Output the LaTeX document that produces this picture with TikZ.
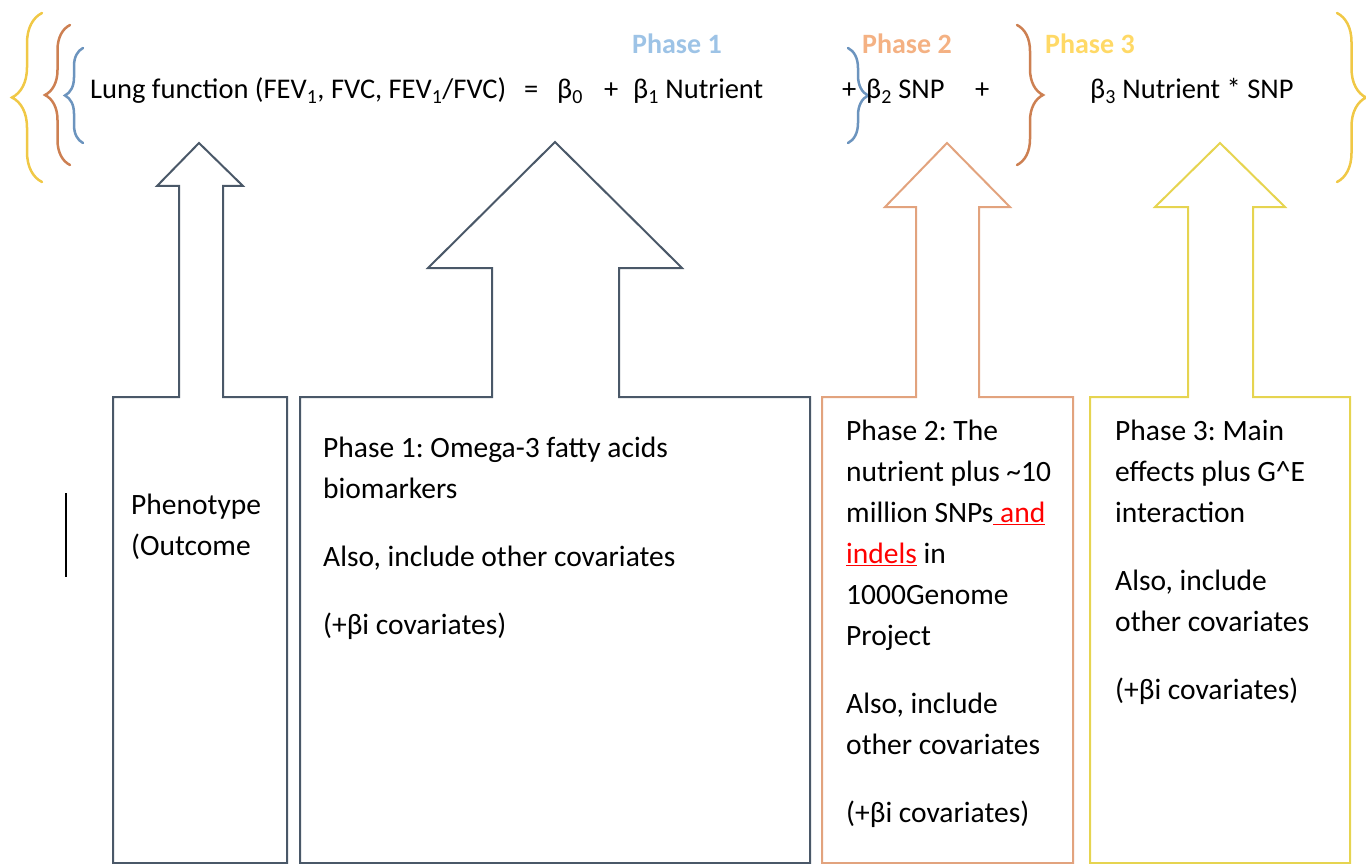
\documentclass[tikz,border=0pt]{standalone}
\usepackage{fontspec}
\setmainfont{Carlito}
\frenchspacing
\usepackage{xcolor}
\definecolor{slateArr}{RGB}{74,88,104}
\definecolor{orangeArr}{RGB}{226,163,126}
\definecolor{yellowArr}{RGB}{230,212,80}
\definecolor{blueBr}{RGB}{108,148,190}
\definecolor{orangeBr}{RGB}{205,128,82}
\definecolor{yellowBr}{RGB}{240,200,70}
\definecolor{phaseA}{RGB}{157,195,230}
\definecolor{phaseB}{RGB}{244,177,131}
\definecolor{phaseC}{RGB}{255,217,102}
\usepackage{tikz}
\usetikzlibrary{decorations.pathreplacing}

\begin{document}
\begin{tikzpicture}[x=1pt, y=-1pt,
  txt/.style={anchor=north west, inner sep=0pt, align=left,
              font=\fontsize{29.5}{41}\selectfont},
  eq/.style={anchor=base west, inner sep=0pt, font=\fontsize{28.5}{34}\selectfont},
  lab/.style={eq, font=\fontsize{28}{34}\selectfont\bfseries},
  blk/.style={line width=2pt, line join=miter},
  brc/.style={decorate, line width=2.5pt, line cap=round}
]
\useasboundingbox (0,0) rectangle (1366,864);

%% block arrows
\draw[blk, slateArr] (113,863) -- (113,397) -- (179,397) -- (179,186) -- (157,186) -- (199,143)
  -- (243,186) -- (223,186) -- (223,397) -- (287,397) -- (287,863) -- cycle;
\draw[blk, slateArr] (300,863) -- (300,397) -- (492,397) -- (492,268) -- (428,268) -- (555,142)
  -- (682,268) -- (619,268) -- (619,397) -- (810,397) -- (810,863) -- cycle;
\draw[blk, orangeArr] (822,863) -- (822,397) -- (916,397) -- (916,207) -- (885,207) -- (947,143)
  -- (1010,207) -- (979,207) -- (979,397) -- (1073,397) -- (1073,863) -- cycle;
\draw[blk, yellowArr] (1090,863) -- (1090,397) -- (1188,397) -- (1188,207) -- (1155,207) -- (1220,143)
  -- (1285,207) -- (1253,207) -- (1253,397) -- (1350,397) -- (1350,863) -- cycle;

%% braces
\draw[brc, yellowBr, decoration={brace, amplitude=30pt}] (42,182) -- (42,13);
\draw[brc, orangeBr, decoration={brace, amplitude=25pt}] (70,165) -- (70,25);
\draw[brc, blueBr, decoration={brace, amplitude=18pt}] (83,143) -- (83,48);
\draw[brc, blueBr, decoration={brace, amplitude=20pt}] (848,48) -- (848,143);
\draw[brc, orangeBr, decoration={brace, amplitude=26pt}] (1017,25) -- (1017,165);
\draw[brc, yellowBr, decoration={brace, amplitude=29pt}] (1337,13) -- (1337,182);

%% phase labels
\node[lab, phaseA] (ph1) at (632,54) {Phase 1};
\node[lab, phaseB] (ph2) at (862,54) {Phase 2};
\node[lab, phaseC] (ph3) at (1045,54) {Phase 3};

%% model equation
\node[eq] (lhs)  at (90,99)   {Lung function (FEV\textsubscript{1}, FVC, FEV\textsubscript{1}/FVC)};
\node[eq] (eqs)  at (524,99)  {=};
\node[eq] (b0)   at (557,99)  {β\textsubscript{0}};
\node[eq] (p1)   at (604,99)  {+};
\node[eq] (b1)   at (633,99)  {β\textsubscript{1} Nutrient};
\node[eq] (p2)   at (842,99)  {+};
\node[eq] (b2)   at (866,99)  {β\textsubscript{2} SNP};
\node[eq] (p3)   at (975,99)  {+};
\node[eq] (b3)   at (1090,99) {β\textsubscript{3} Nutrient * SNP};

%% box texts
\node[txt] (pheno) at (131,494) {Phenotype\\(Outcome};
\node[txt] (tph1)  at (323,437) {Phase 1: Omega-3 fatty acids\\biomarkers\\[27pt]
  Also, include other covariates\\[27pt](+βi covariates)};
\node[txt] (tph2)  at (846,420) {Phase 2: The\\nutrient plus \textasciitilde10\\
  million SNPs\textcolor{red}{\underline{\ and}}\\\textcolor{red}{\underline{indels}} in\\
  1000Genome\\Project\\[27pt]Also, include\\other covariates\\[27pt](+βi covariates)};
\node[txt] (tph3)  at (1115,420) {Phase 3: Main\\effects plus G\textasciicircum E\\interaction\\[27pt]
  Also, include\\other covariates\\[27pt](+βi covariates)};

%% stray cursor mark
\draw[line width=1.5pt] (66,493) -- (66,577);
\end{tikzpicture}
\end{document}
